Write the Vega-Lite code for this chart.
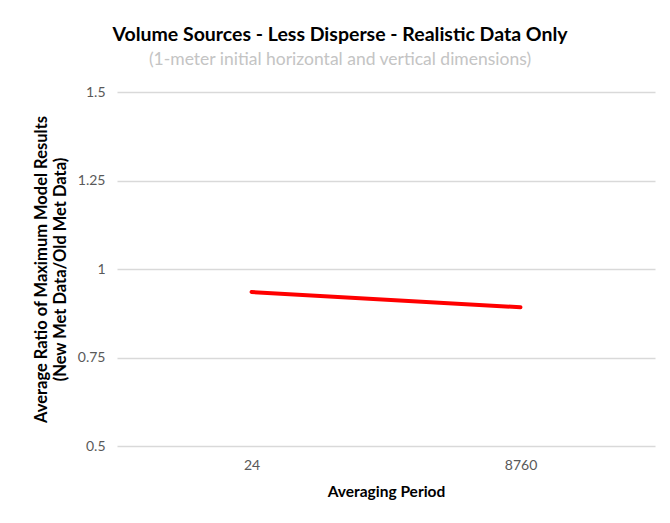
{
  "$schema": "https://vega.github.io/schema/vega-lite/v6.json",
  "width": 538,
  "height": 354,
  "autosize": {"type": "none"},
  "padding": {"left": 117, "top": 92, "right": 15, "bottom": 77},
  "background": "white",
  "title": {
    "text": "Volume Sources - Less Disperse - Realistic Data Only",
    "subtitle": "(1-meter initial horizontal and vertical dimensions)",
    "font": "Lato",
    "fontSize": 19.5,
    "fontWeight": "bold",
    "color": "#000000",
    "subtitleFont": "Lato",
    "subtitleFontSize": 17.5,
    "subtitleColor": "#c4c4c4",
    "subtitlePadding": 5,
    "anchor": "middle",
    "dx": -46,
    "offset": 16
  },
  "data": {
    "values": [
      {"period": "24", "ratio": 0.935},
      {"period": "8760", "ratio": 0.892}
    ]
  },
  "mark": {"type": "line", "color": "#ff0000", "strokeWidth": 4, "strokeCap": "round"},
  "encoding": {
    "x": {
      "field": "period",
      "type": "ordinal",
      "sort": ["24", "8760"],
      "scale": {"paddingInner": 0, "paddingOuter": 0},
      "axis": {
        "title": "Averaging Period",
        "labelAngle": 0,
        "labelFont": "Lato",
        "labelFontSize": 14,
        "labelColor": "#595959",
        "labelPadding": 12,
        "ticks": false,
        "domain": false,
        "grid": false,
        "titleFont": "Lato",
        "titleFontSize": 15.5,
        "titleFontWeight": "bold",
        "titleColor": "#000000",
        "titlePadding": 12
      }
    },
    "y": {
      "field": "ratio",
      "type": "quantitative",
      "scale": {"domain": [0.5, 1.5], "nice": false, "zero": false},
      "axis": {
        "values": [0.5, 0.75, 1, 1.25, 1.5],
        "labelExpr": "'' + datum.value",
        "title": ["Average Ratio of Maximum Model Results", "(New Met Data/Old Met Data)"],
        "labelFont": "Lato",
        "labelFontSize": 14,
        "labelColor": "#595959",
        "labelPadding": 12,
        "ticks": false,
        "domain": false,
        "gridColor": "#d9d9d9",
        "gridWidth": 1.3,
        "titleFont": "Lato",
        "titleFontSize": 16.5,
        "titleFontWeight": "bold",
        "titleColor": "#000000",
        "titlePadding": 9,
        "titleLineHeight": 19
      }
    }
  },
  "config": {"view": {"stroke": null}}
}
